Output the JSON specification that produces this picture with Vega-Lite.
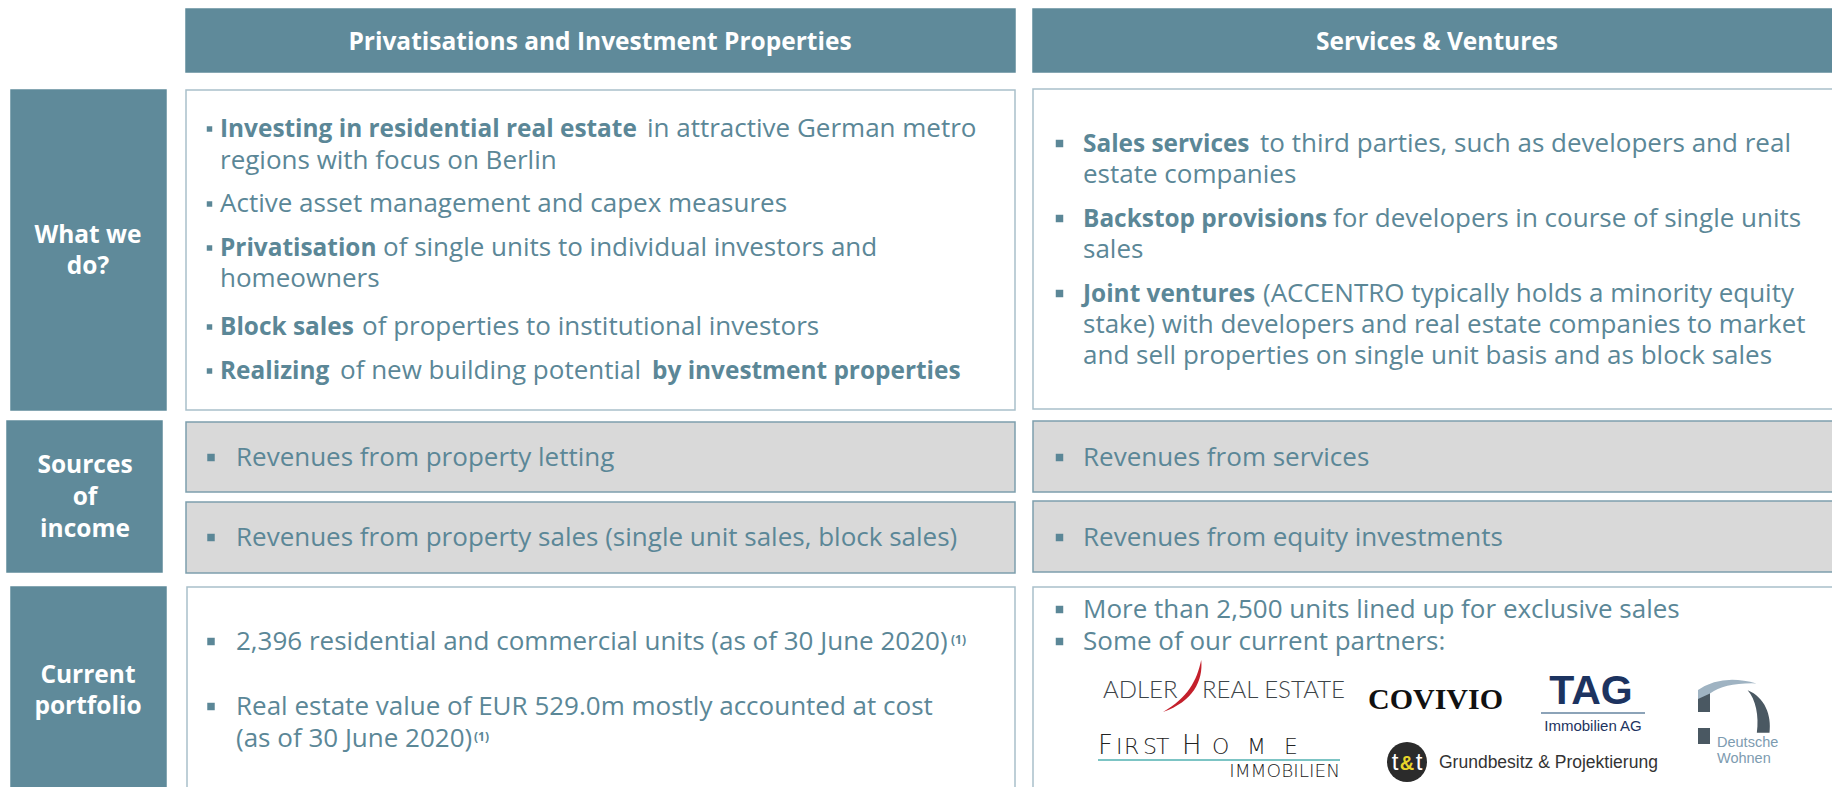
{
  "$schema": "https://vega.github.io/schema/vega-lite/v6.json",
  "width": 1832,
  "height": 787,
  "padding": 0,
  "autosize": {"type": "none"},
  "background": "white",
  "config": {"view": {"stroke": null}},
  "datasets": {
    "boxes": [
      {"kind": "header", "x": 186, "x2": 1015, "y": 9, "y2": 72},
      {"kind": "header", "x": 1033, "x2": 1845, "y": 9, "y2": 72},
      {"kind": "label", "x": 11, "x2": 166, "y": 90, "y2": 410},
      {"kind": "label", "x": 7, "x2": 162, "y": 421, "y2": 572},
      {"kind": "label", "x": 11, "x2": 166, "y": 587, "y2": 800},
      {"kind": "content", "x": 186, "x2": 1015, "y": 90, "y2": 410},
      {"kind": "content", "x": 1033, "x2": 1845, "y": 89, "y2": 409},
      {"kind": "content", "x": 187, "x2": 1015, "y": 587, "y2": 800},
      {"kind": "content", "x": 1033, "x2": 1845, "y": 587, "y2": 800},
      {"kind": "grey", "x": 186, "x2": 1015, "y": 422, "y2": 492},
      {"kind": "grey", "x": 186, "x2": 1015, "y": 502, "y2": 573},
      {"kind": "grey", "x": 1033, "x2": 1845, "y": 421, "y2": 492},
      {"kind": "grey", "x": 1033, "x2": 1845, "y": 501, "y2": 572}
    ],
    "bars": [
      {"kind": "tagline", "x": 1541, "x2": 1645, "y": 712, "y2": 714},
      {"kind": "fhline", "x": 1098, "x2": 1340, "y": 759, "y2": 761},
      {"kind": "dwbar", "x": 1698, "x2": 1710, "y": 691, "y2": 712},
      {"kind": "dwbar", "x": 1698, "x2": 1710, "y": 728, "y2": 744}
    ],
    "bullets": [
      {"grp": "small", "x": 209.5, "y": 129},
      {"grp": "small", "x": 209.5, "y": 204},
      {"grp": "small", "x": 209.5, "y": 248},
      {"grp": "small", "x": 209.5, "y": 327},
      {"grp": "small", "x": 209.5, "y": 371},
      {"grp": "big", "x": 1059.5, "y": 143.5},
      {"grp": "big", "x": 1059.5, "y": 218.5},
      {"grp": "big", "x": 1059.5, "y": 293.5},
      {"grp": "big", "x": 211, "y": 457.5},
      {"grp": "big", "x": 211, "y": 537.5},
      {"grp": "big", "x": 211, "y": 641.5},
      {"grp": "big", "x": 211, "y": 706.5},
      {"grp": "big", "x": 1059.5, "y": 457.5},
      {"grp": "big", "x": 1059.5, "y": 537.5},
      {"grp": "big", "x": 1059.5, "y": 609.5},
      {"grp": "big", "x": 1059.5, "y": 641.5}
    ],
    "shapes": [
      {"shape": "slash", "x": 1182.5, "y": 686},
      {"shape": "dwarc", "x": 1728, "y": 690},
      {"shape": "dwcres", "x": 1758, "y": 711},
      {"shape": "ttcircle", "x": 1407, "y": 762}
    ],
    "texts": [
      {"style": "hdr", "text": "Privatisations and Investment Properties", "x": 600, "y": 50},
      {"style": "hdr", "text": "Services & Ventures", "x": 1437, "y": 50},
      {"style": "lbl", "text": "What we", "x": 88, "y": 243},
      {"style": "lbl", "text": "do?", "x": 88, "y": 274},
      {"style": "lbl", "text": "Sources", "x": 85, "y": 473},
      {"style": "lbl", "text": "of", "x": 85, "y": 505},
      {"style": "lbl", "text": "income", "x": 85, "y": 537},
      {"style": "lbl", "text": "Current", "x": 88, "y": 683},
      {"style": "lbl", "text": "portfolio", "x": 88, "y": 714},
      {"style": "b", "text": "Investing in residential real estate", "x": 220, "y": 137},
      {"style": "n", "text": "in attractive German metro", "x": 647, "y": 137},
      {"style": "n", "text": "regions with focus on Berlin", "x": 220, "y": 169},
      {"style": "n", "text": "Active asset management and capex measures", "x": 220, "y": 212},
      {"style": "b", "text": "Privatisation", "x": 220, "y": 256},
      {"style": "n", "text": "of single units to individual investors and", "x": 383, "y": 256},
      {"style": "n", "text": "homeowners", "x": 220, "y": 287},
      {"style": "b", "text": "Block sales", "x": 220, "y": 335},
      {"style": "n", "text": "of properties to institutional investors", "x": 362, "y": 335},
      {"style": "b", "text": "Realizing", "x": 220, "y": 379},
      {"style": "n", "text": "of new building potential", "x": 340, "y": 379},
      {"style": "b", "text": "by investment properties", "x": 652, "y": 379},
      {"style": "b", "text": "Sales services", "x": 1083, "y": 152},
      {"style": "n", "text": "to third parties, such as developers and real", "x": 1260, "y": 152},
      {"style": "n", "text": "estate companies", "x": 1083, "y": 183},
      {"style": "b", "text": "Backstop provisions", "x": 1083, "y": 227},
      {"style": "n", "text": "for developers in course of single units", "x": 1333, "y": 227},
      {"style": "n", "text": "sales", "x": 1083, "y": 258},
      {"style": "b", "text": "Joint ventures", "x": 1083, "y": 302},
      {"style": "n", "text": "(ACCENTRO typically holds a minority equity", "x": 1263, "y": 302},
      {"style": "n", "text": "stake) with developers and real estate companies to market", "x": 1083, "y": 333},
      {"style": "n", "text": "and sell properties on single unit basis and as block sales", "x": 1083, "y": 364},
      {"style": "n", "text": "Revenues from property letting", "x": 236, "y": 466},
      {"style": "n", "text": "Revenues from property sales (single unit sales, block sales)", "x": 236, "y": 546},
      {"style": "n", "text": "Revenues from services", "x": 1083, "y": 466},
      {"style": "n", "text": "Revenues from equity investments", "x": 1083, "y": 546},
      {"style": "n", "text": "2,396 residential and commercial units (as of 30 June 2020)", "x": 236, "y": 650},
      {"style": "sup", "text": "(1)", "x": 951, "y": 644},
      {"style": "n", "text": "Real estate value of EUR 529.0m mostly accounted at cost", "x": 236, "y": 715},
      {"style": "n", "text": "(as of 30 June 2020)", "x": 236, "y": 747},
      {"style": "sup", "text": "(1)", "x": 474, "y": 741},
      {"style": "n", "text": "More than 2,500 units lined up for exclusive sales", "x": 1083, "y": 618},
      {"style": "n", "text": "Some of our current partners:", "x": 1083, "y": 650},
      {"style": "adler", "text": "ADLER", "x": 1103, "y": 698},
      {"style": "adler", "text": "REAL ESTATE", "x": 1202, "y": 698},
      {"style": "covivio", "text": "COVIVIO", "x": 1368, "y": 709},
      {"style": "tag", "text": "TAG", "x": 1591, "y": 704},
      {"style": "tagsub", "text": "Immobilien AG", "x": 1593, "y": 731},
      {"style": "dw", "text": "Deutsche", "x": 1717, "y": 747},
      {"style": "dw", "text": "Wohnen", "x": 1717, "y": 763},
      {"style": "fhbig", "text": "F", "x": 1098, "y": 754},
      {"style": "fhbig", "text": "H", "x": 1182, "y": 754},
      {"style": "fhsmall", "text": "I", "x": 1116, "y": 754},
      {"style": "fhsmall", "text": "R", "x": 1124, "y": 754},
      {"style": "fhsmall", "text": "S", "x": 1143, "y": 754},
      {"style": "fhsmall", "text": "T", "x": 1156, "y": 754},
      {"style": "fhsmall", "text": "O", "x": 1212, "y": 754},
      {"style": "fhsmall", "text": "M", "x": 1247, "y": 754},
      {"style": "fhsmall", "text": "E", "x": 1284, "y": 754},
      {"style": "fhimm", "text": "IMMOBILIEN", "x": 1340, "y": 777},
      {"style": "ttw", "text": "t", "x": 1395, "y": 770},
      {"style": "ttw", "text": "t", "x": 1419, "y": 770},
      {"style": "tty", "text": "&", "x": 1407, "y": 770},
      {"style": "grund", "text": "Grundbesitz & Projektierung", "x": 1439, "y": 768}
    ]
  },
  "encoding": {
    "x": {"field": "x", "type": "quantitative", "scale": {"domain": [0, 1832], "nice": false, "zero": false}, "axis": null},
    "y": {"field": "y", "type": "quantitative", "scale": {"domain": [0, 787], "nice": false, "zero": false, "reverse": true}, "axis": null}
  },
  "layer": [
    {
      "data": {"name": "boxes"},
      "mark": {"type": "rect", "strokeWidth": 1.5},
      "encoding": {
        "x2": {"field": "x2"},
        "y2": {"field": "y2"},
        "fill": {"field": "kind", "type": "nominal", "scale": {"domain": ["header", "label", "content", "grey", "tagline", "fhline", "dwbar"], "range": ["#5f8a9a", "#5f8a9a", "#ffffff", "#d9d9d9", "#8ca3b8", "#7cc4c4", "#4a5862"]}, "legend": null},
        "stroke": {"field": "kind", "type": "nominal", "scale": {"domain": ["header", "label", "content", "grey"], "range": ["#5f8a9a", "#5f8a9a", "#a9c0ca", "#7d9fad"]}, "legend": null}
      }
    },
    {
      "data": {"name": "bars"},
      "mark": {"type": "rect", "strokeWidth": 0},
      "encoding": {
        "x2": {"field": "x2"},
        "y2": {"field": "y2"},
        "fill": {"field": "kind", "type": "nominal", "scale": {"domain": ["header", "label", "content", "grey", "tagline", "fhline", "dwbar"], "range": ["#5f8a9a", "#5f8a9a", "#ffffff", "#d9d9d9", "#8ca3b8", "#7cc4c4", "#4a5862"]}, "legend": null}
      }
    },
    {
      "data": {"name": "shapes"},
      "transform": [{"filter": "datum.shape === 'slash'"}],
      "mark": {"type": "point", "filled": true, "opacity": 1, "color": "#c4202c", "size": 2704, "shape": "M 0.72 -1 C 0.8 -0.2 0.4 0.6 -0.75 1 C 0.2 0.45 0.55 -0.2 0.72 -1 Z"}
    },
    {
      "data": {"name": "shapes"},
      "transform": [{"filter": "datum.shape === 'dwarc'"}],
      "mark": {"type": "point", "filled": true, "opacity": 1, "color": "#9fb3c2", "size": 3600, "shape": "M -1 0 Q -0.2 -0.55 0.95 -0.22 Q -0.1 -0.25 -0.6 0.12 L -1 0.3 Z"}
    },
    {
      "data": {"name": "shapes"},
      "transform": [{"filter": "datum.shape === 'dwcres'"}],
      "mark": {"type": "point", "filled": true, "opacity": 1, "color": "#4a5862", "size": 2116, "shape": "M -0.45 -0.9 C 0.3 -0.6 0.6 0.2 0.5 0.95 L -0.05 0.95 C 0.05 0.2 -0.1 -0.5 -0.45 -0.9 Z"}
    },
    {
      "data": {"name": "shapes"},
      "transform": [{"filter": "datum.shape === 'ttcircle'"}],
      "mark": {"type": "point", "filled": true, "opacity": 1, "color": "#2b2b2b", "size": 1600, "shape": "circle"}
    },
    {
      "data": {"name": "bullets"},
      "mark": {"type": "point", "filled": true, "opacity": 1, "shape": "square", "color": "#5b8797"},
      "encoding": {
        "size": {"field": "grp", "type": "nominal", "scale": {"domain": ["small", "big"], "range": [30, 56]}, "legend": null}
      }
    },
    {
      "data": {"name": "texts"},
      "transform": [{"filter": "datum.style === 'hdr' || datum.style === 'lbl'"}],
      "mark": {"type": "text", "font": "Open Sans", "fontWeight": "bold", "fontSize": 24.5, "color": "#ffffff", "align": "center", "baseline": "alphabetic"},
      "encoding": {"text": {"field": "text"}}
    },
    {
      "data": {"name": "texts"},
      "transform": [{"filter": "datum.style === 'n'"}],
      "mark": {"type": "text", "font": "Open Sans", "fontSize": 26, "color": "#5b8797", "align": "left", "baseline": "alphabetic"},
      "encoding": {"text": {"field": "text"}}
    },
    {
      "data": {"name": "texts"},
      "transform": [{"filter": "datum.style === 'b'"}],
      "mark": {"type": "text", "font": "Open Sans", "fontWeight": "bold", "fontSize": 24.4, "color": "#5b8797", "align": "left", "baseline": "alphabetic"},
      "encoding": {"text": {"field": "text"}}
    },
    {
      "data": {"name": "texts"},
      "transform": [{"filter": "datum.style === 'sup'"}],
      "mark": {"type": "text", "font": "Open Sans", "fontWeight": "bold", "fontSize": 12, "color": "#5b8797", "align": "left", "baseline": "alphabetic"},
      "encoding": {"text": {"field": "text"}}
    },
    {
      "data": {"name": "texts"},
      "transform": [{"filter": "datum.style === 'adler'"}],
      "mark": {"type": "text", "font": "Lato", "fontWeight": 300, "fontSize": 24, "color": "#3d4448", "align": "left", "baseline": "alphabetic"},
      "encoding": {"text": {"field": "text"}}
    },
    {
      "data": {"name": "texts"},
      "transform": [{"filter": "datum.style === 'covivio'"}],
      "mark": {"type": "text", "font": "Liberation Serif", "fontWeight": "bold", "fontSize": 30, "color": "#111111", "align": "left", "baseline": "alphabetic"},
      "encoding": {"text": {"field": "text"}}
    },
    {
      "data": {"name": "texts"},
      "transform": [{"filter": "datum.style === 'tag'"}],
      "mark": {"type": "text", "font": "Liberation Sans", "fontWeight": "bold", "fontSize": 41, "color": "#1c3360", "align": "center", "baseline": "alphabetic"},
      "encoding": {"text": {"field": "text"}}
    },
    {
      "data": {"name": "texts"},
      "transform": [{"filter": "datum.style === 'tagsub'"}],
      "mark": {"type": "text", "font": "Liberation Sans", "fontSize": 15, "color": "#1c3360", "align": "center", "baseline": "alphabetic"},
      "encoding": {"text": {"field": "text"}}
    },
    {
      "data": {"name": "texts"},
      "transform": [{"filter": "datum.style === 'dw'"}],
      "mark": {"type": "text", "font": "Liberation Sans", "fontSize": 14.5, "color": "#7d9bb0", "align": "left", "baseline": "alphabetic"},
      "encoding": {"text": {"field": "text"}}
    },
    {
      "data": {"name": "texts"},
      "transform": [{"filter": "datum.style === 'fhbig'"}],
      "mark": {"type": "text", "font": "DejaVu Sans", "fontWeight": 300, "fontSize": 26, "color": "#222222", "align": "left", "baseline": "alphabetic"},
      "encoding": {"text": {"field": "text"}}
    },
    {
      "data": {"name": "texts"},
      "transform": [{"filter": "datum.style === 'fhsmall'"}],
      "mark": {"type": "text", "font": "DejaVu Sans", "fontWeight": 300, "fontSize": 22, "color": "#222222", "align": "left", "baseline": "alphabetic"},
      "encoding": {"text": {"field": "text"}}
    },
    {
      "data": {"name": "texts"},
      "transform": [{"filter": "datum.style === 'fhimm'"}],
      "mark": {"type": "text", "font": "DejaVu Sans", "fontWeight": 300, "fontSize": 18.5, "color": "#222222", "align": "right", "baseline": "alphabetic"},
      "encoding": {"text": {"field": "text"}}
    },
    {
      "data": {"name": "texts"},
      "transform": [{"filter": "datum.style === 'ttw'"}],
      "mark": {"type": "text", "font": "Liberation Sans", "fontSize": 24, "color": "#ffffff", "align": "center", "baseline": "alphabetic"},
      "encoding": {"text": {"field": "text"}}
    },
    {
      "data": {"name": "texts"},
      "transform": [{"filter": "datum.style === 'tty'"}],
      "mark": {"type": "text", "font": "Liberation Sans", "fontWeight": "bold", "fontSize": 20, "color": "#e8d52a", "align": "center", "baseline": "alphabetic"},
      "encoding": {"text": {"field": "text"}}
    },
    {
      "data": {"name": "texts"},
      "transform": [{"filter": "datum.style === 'grund'"}],
      "mark": {"type": "text", "font": "Liberation Sans", "fontSize": 17.5, "color": "#333333", "align": "left", "baseline": "alphabetic"},
      "encoding": {"text": {"field": "text"}}
    }
  ]
}
